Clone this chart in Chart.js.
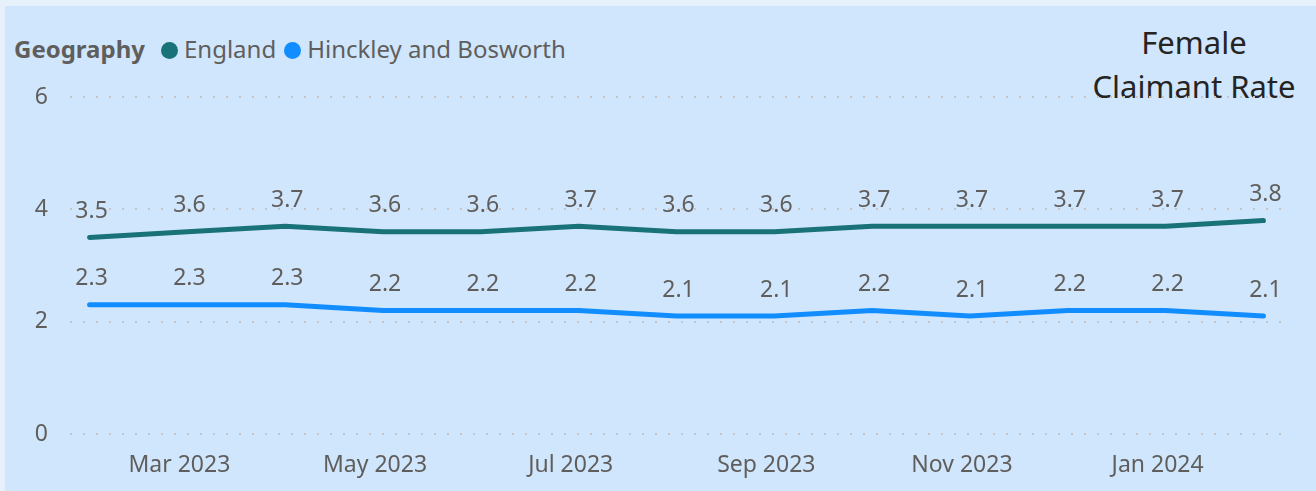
<!DOCTYPE html>
<html>
<head>
<meta charset="utf-8">
<script src="https://cdn.jsdelivr.net/npm/chart.js@4"></script>
<style>
  html, body { margin: 0; padding: 0; background: #e6f1fc; overflow: hidden; }
  #wrap { position: absolute; left: 5px; top: 6px; width: 1311px; height: 485px; background: #d0e6fc; }
  #chartBox { position: absolute; left: 0; top: 0; width: 1316px; height: 491px; }
  .legend { position: absolute; left: 9px; top: 26px; font-family: "Noto Sans", sans-serif; font-size: 24px; color: #605e5c; white-space: nowrap; z-index: 2; }
  .legend b { font-weight: bold; color: #605e5c; margin-right: 16px; }
  .legend .dot { display: inline-block; width: 17px; height: 17px; border-radius: 50%; vertical-align: -1px; margin-right: 6px; }
  .legend .item { margin-right: 8px; }
  .title { position: absolute; right: 2px; top: 14px; width: 240px; text-align: center; font-family: "Noto Sans", sans-serif; font-size: 31px; line-height: 44px; color: #252423; z-index: 2; }
</style>
</head>
<body>
<div id="chartBox"><canvas id="chart" width="1316" height="491"></canvas></div>
<script>
// months Feb 2023 .. Feb 2024
const months = ["Feb 2023", "Mar 2023", "Apr 2023", "May 2023", "Jun 2023", "Jul 2023", "Aug 2023",
  "Sep 2023", "Oct 2023", "Nov 2023", "Dec 2023", "Jan 2024", "Feb 2024"];
const england = [3.5, 3.6, 3.7, 3.6, 3.6, 3.7, 3.6, 3.6, 3.7, 3.7, 3.7, 3.7, 3.8];
const hinckley = [2.3, 2.3, 2.3, 2.2, 2.2, 2.2, 2.1, 2.1, 2.2, 2.1, 2.2, 2.2, 2.1];
const xTickIdx = [1, 3, 5, 7, 9, 11];
const yTicks = [0, 2, 4, 6];
</script>
<div id="wrap">
  <div class="legend"><b>Geography</b><span class="item"><span class="dot" style="background:#197278"></span>England</span><span class="item"><span class="dot" style="background:#118dff"></span>Hinckley and Bosworth</span></div>
  <div class="title">Female<br>Claimant Rate</div>
</div>
<style>#wrap { z-index: 0; } #chartBox { z-index: 1; }</style>
<script>
const toPts = arr => arr.map((v, i) => ({ x: i, y: v }));

// value labels above each point
const dataLabels = {
  id: "dataLabels",
  afterDatasetsDraw(chart) {
    const ctx = chart.ctx;
    ctx.save();
    ctx.font = '23px "Noto Sans", sans-serif';
    ctx.fillStyle = "#605e5c";
    ctx.textAlign = "center";
    ctx.textBaseline = "middle";
    chart.data.datasets.forEach((ds, di) => {
      chart.getDatasetMeta(di).data.forEach((pt, i) => {
        ctx.fillText(ds.data[i].y.toFixed(1), pt.x + 2, pt.y - 26);
      });
    });
    ctx.restore();
  }
};

new Chart(document.getElementById("chart"), {
  type: "line",
  data: {
    datasets: [
      { label: "England", data: toPts(england), borderColor: "#197278", borderWidth: 5 },
      { label: "Hinckley and Bosworth", data: toPts(hinckley), borderColor: "#118dff", borderWidth: 5 }
    ]
  },
  options: {
    responsive: false,
    animation: false,
    layout: { padding: { top: 97, right: 33, left: 0, bottom: 0 } },
    elements: {
      point: { radius: 0 },
      line: { tension: 0, borderCapStyle: "round", borderJoinStyle: "round" }
    },
    plugins: { legend: { display: false }, tooltip: { enabled: false } },
    scales: {
      x: {
        type: "linear",
        min: -0.2,
        max: 12.2,
        grid: { display: false },
        border: { display: false },
        afterBuildTicks: s => { s.ticks = xTickIdx.map(v => ({ value: v })); },
        afterFit: s => { s.height = 57; },
        ticks: {
          autoSkip: false,
          maxRotation: 0,
          padding: 10,
          labelOffset: -8,
          color: "#605e5c",
          font: { family: "Noto Sans", size: 23 },
          callback: v => months[v]
        }
      },
      y: {
        min: 0,
        max: 6,
        afterBuildTicks: s => { s.ticks = yTicks.map(v => ({ value: v })); },
        afterFit: s => { s.width = 70; },
        border: { display: false, dash: [2, 11] },
        grid: { color: "#c8c6c4", lineWidth: 2, drawTicks: false },
        ticks: {
          padding: 22,
          color: "#605e5c",
          font: { family: "Noto Sans", size: 23 }
        }
      }
    }
  },
  plugins: [dataLabels]
});
</script>
</body>
</html>
